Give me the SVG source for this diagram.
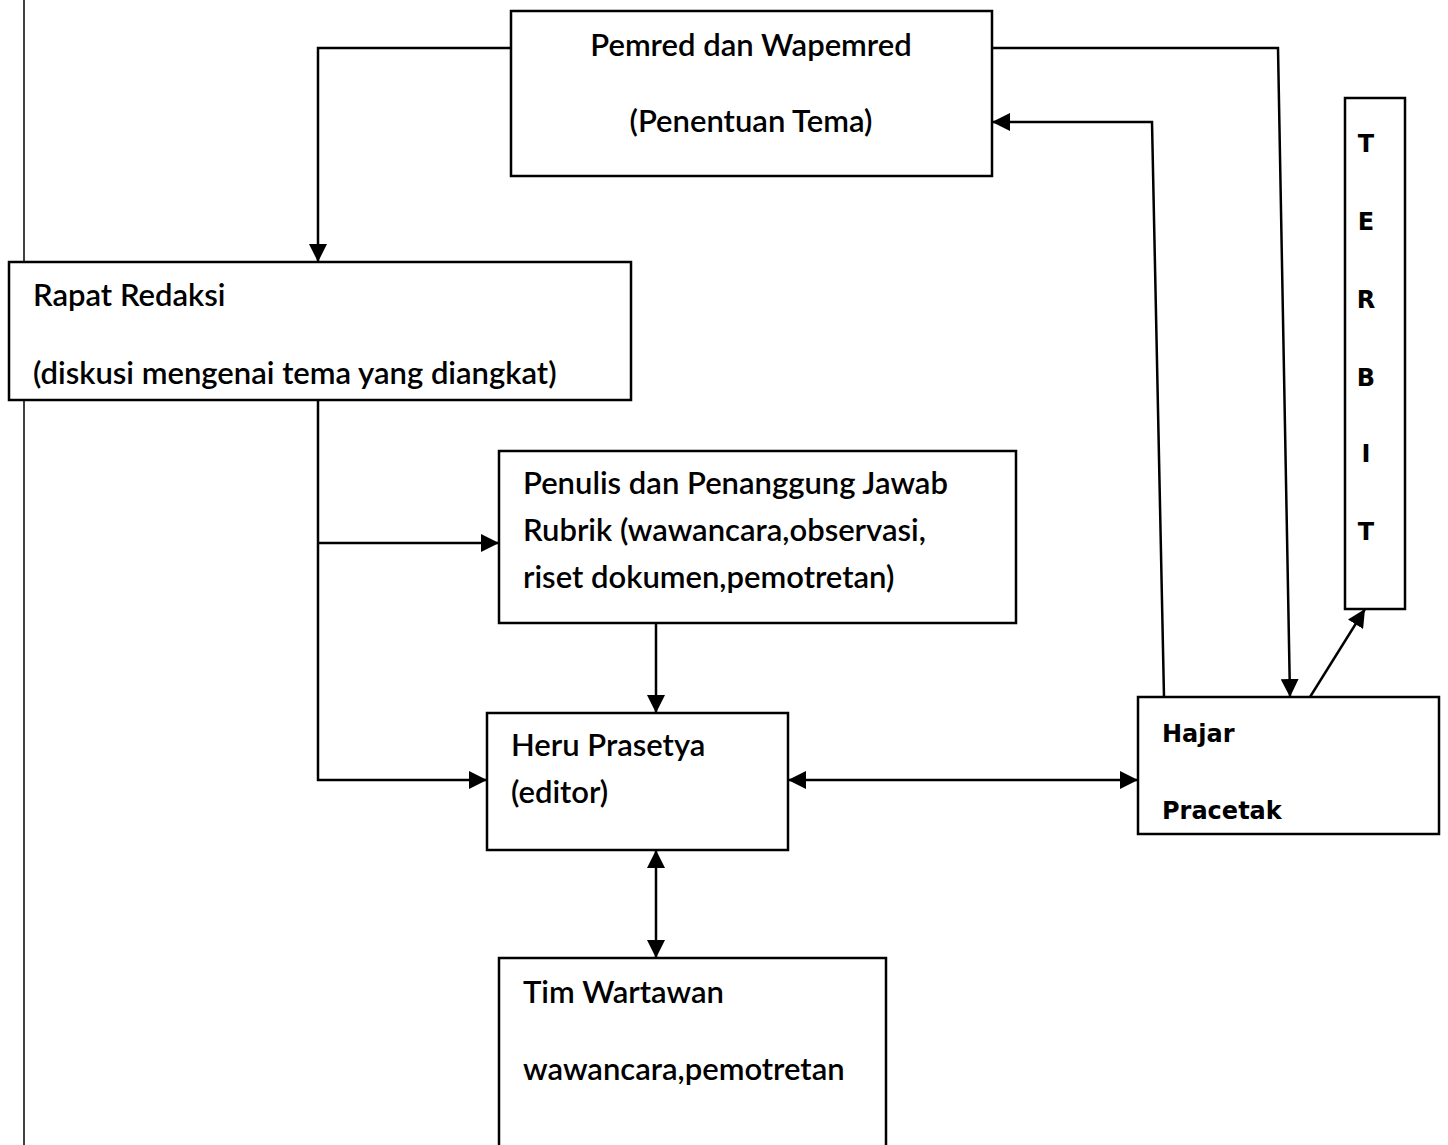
<svg xmlns="http://www.w3.org/2000/svg" width="1448" height="1145" viewBox="0 0 1448 1145">
<style>
.box{fill:#fff;stroke:#000;stroke-width:2.5}
.t{font-family:Lato,"Open Sans","Liberation Sans",sans-serif;font-size:31px;font-weight:600;fill:#000}
.b{font-family:"DejaVu Sans","Liberation Sans",sans-serif;font-size:24px;font-weight:bold;fill:#000}
.c{fill:none;stroke:#000;stroke-width:2.5}
</style>
<defs>
<marker id="a" viewBox="0 0 18 18" refX="18" refY="9" markerWidth="18" markerHeight="18" markerUnits="userSpaceOnUse" orient="auto-start-reverse">
<path d="M0,0 L18,9 L0,18 z" fill="#000"/>
</marker>
</defs>
<rect width="1448" height="1145" fill="#fff"/>
<line x1="24" y1="0" x2="24" y2="1145" stroke="#000" stroke-width="1.5"/>
<g id="connectors">
<polyline class="c" points="511,48 318,48 318,262" marker-end="url(#a)"/>
<polyline class="c" points="318,400 318,780 487,780" marker-end="url(#a)"/>
<polyline class="c" points="318,543 499,543" marker-end="url(#a)"/>
<polyline class="c" points="656,623 656,713" marker-end="url(#a)"/>
<polyline class="c" points="788,780 1138,780" marker-start="url(#a)" marker-end="url(#a)"/>
<polyline class="c" points="656,850 656,958" marker-start="url(#a)" marker-end="url(#a)"/>
<polyline class="c" points="992,48 1278,48 1290,697" marker-end="url(#a)"/>
<polyline class="c" points="1164,697 1152,122 992,122" marker-end="url(#a)"/>
<polyline class="c" points="1310,697 1365,609" marker-end="url(#a)"/>
</g>
<g id="pemred">
<rect class="box" x="511" y="11" width="481" height="165"/>
<text class="t" x="751" y="56" text-anchor="middle">Pemred dan Wapemred</text>
<text class="t" x="751" y="132" text-anchor="middle">(Penentuan Tema)</text>
</g>
<g id="rapat">
<rect class="box" x="9" y="262" width="622" height="138"/>
<text class="t" x="33" y="306">Rapat Redaksi</text>
<text class="t" x="33" y="384">(diskusi mengenai tema yang diangkat)</text>
</g>
<g id="penulis">
<rect class="box" x="499" y="451" width="517" height="172"/>
<text class="t" x="523" y="494">Penulis dan Penanggung Jawab</text>
<text class="t" x="523" y="541">Rubrik (wawancara,observasi,</text>
<text class="t" x="523" y="588">riset dokumen,pemotretan)</text>
</g>
<g id="heru">
<rect class="box" x="487" y="713" width="301" height="137"/>
<text class="t" x="511" y="756">Heru Prasetya</text>
<text class="t" x="511" y="803">(editor)</text>
</g>
<g id="tim">
<rect class="box" x="499" y="958" width="387" height="200"/>
<text class="t" x="523" y="1003">Tim Wartawan</text>
<text class="t" x="523" y="1080">wawancara,pemotretan</text>
</g>
<g id="hajar">
<rect class="box" x="1138" y="697" width="301" height="137"/>
<text class="b" x="1162" y="742">Hajar</text>
<text class="b" x="1162" y="819">Pracetak</text>
</g>
<g id="terbit">
<rect class="box" x="1345" y="98" width="60" height="511"/>
<text class="b" x="1366" y="152" text-anchor="middle">T</text>
<text class="b" x="1366" y="230" text-anchor="middle">E</text>
<text class="b" x="1366" y="308" text-anchor="middle">R</text>
<text class="b" x="1366" y="386" text-anchor="middle">B</text>
<text class="b" x="1366" y="462" text-anchor="middle">I</text>
<text class="b" x="1366" y="540" text-anchor="middle">T</text>
</g>
</svg>
